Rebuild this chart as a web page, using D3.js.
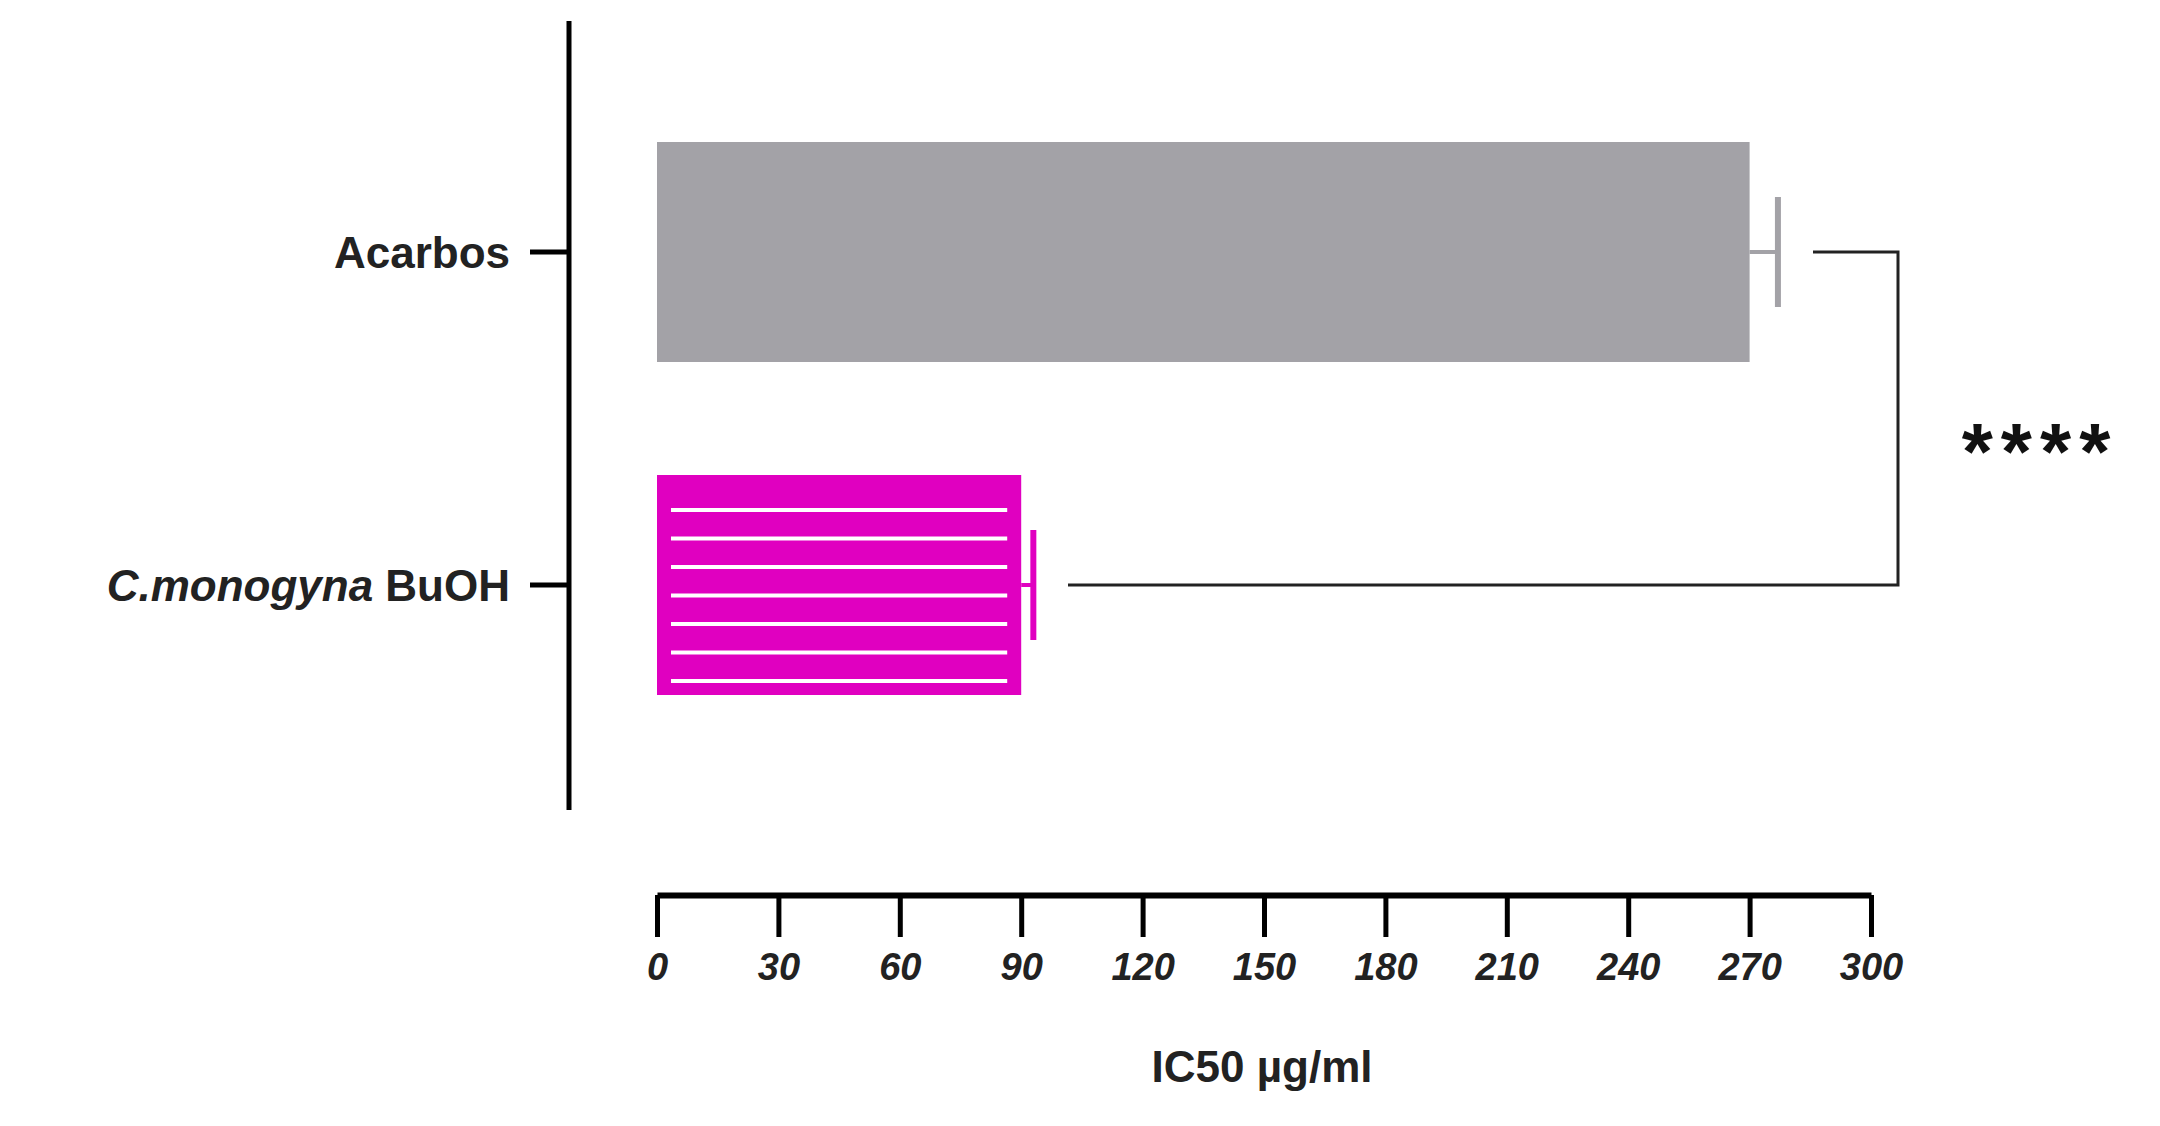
<!DOCTYPE html>
<html><head><meta charset="utf-8">
<script src="https://cdn.jsdelivr.net/npm/d3@7"></script>
<style>body{margin:0;background:#fff}</style></head>
<body><svg id="c" width="2160" height="1126"></svg>
<script>
const categories = ["Acarbos", "C.monogyna BuOH"];
const values = [270, 90];
const errors = [7, 3];
const colors = ["#a3a2a7", "#e000c0"];
const xTicks = [0,30,60,90,120,150,180,210,240,270,300];
const sigLabel = "****";

const svg = d3.select("#c");
const x = d3.scaleLinear().domain([0,300]).range([657,1871]);
const y = d3.scalePoint().domain(categories).range([252,585]);
const barH = 220;
const font = "Liberation Sans, Arial, sans-serif";

// y axis
svg.append("line").attr("x1",569).attr("x2",569).attr("y1",21).attr("y2",810).attr("stroke","#000").attr("stroke-width",5);
categories.forEach((c,i)=>{
  svg.append("line").attr("x1",530).attr("x2",569).attr("y1",y(c)).attr("y2",y(c)).attr("stroke","#000").attr("stroke-width",5);
});
const lab = svg.append("g").attr("font-family",font).attr("font-size",44).attr("font-weight","bold").attr("fill","#222");
lab.append("text").attr("x",510).attr("y",y(categories[0])).attr("dy","0.36em").attr("text-anchor","end").text("Acarbos");
const t2 = lab.append("text").attr("x",510).attr("y",y(categories[1])).attr("dy","0.36em").attr("text-anchor","end");
t2.append("tspan").attr("font-style","italic").text("C.monogyna");
t2.append("tspan").text(" BuOH");

// bars
categories.forEach((c,i)=>{
  const top = y(c)-barH/2;
  svg.append("rect").attr("x",x(0)).attr("y",top).attr("width",x(values[i])-x(0)).attr("height",barH).attr("fill",colors[i]);
  // error bar
  svg.append("line").attr("x1",x(values[i])).attr("x2",x(values[i]+errors[i])).attr("y1",y(c)).attr("y2",y(c)).attr("stroke",colors[i]).attr("stroke-width",4);
  svg.append("line").attr("x1",x(values[i]+errors[i])).attr("x2",x(values[i]+errors[i])).attr("y1",y(c)-55).attr("y2",y(c)+55).attr("stroke",colors[i]).attr("stroke-width",6);
});
// stripes
const b = 1;
d3.range(7).forEach(k=>{
  const yy = y(categories[b]) - barH/2 + 35 + k*28.5;
  svg.append("line").attr("x1",x(0)+14).attr("x2",x(values[b])-14).attr("y1",yy).attr("y2",yy).attr("stroke","#fff").attr("stroke-width",4);
});

// bracket
svg.append("path").attr("d",`M1813,${y(categories[0])} H1898 V${y(categories[1])} H1068`).attr("fill","none").attr("stroke","#222").attr("stroke-width",3);
svg.append("text").attr("x",2040).attr("y",(y(categories[0])+y(categories[1]))/2).attr("dy","0.75em").attr("text-anchor","middle")
  .attr("font-family",font).attr("font-weight","bold").attr("font-size",80).attr("letter-spacing",8).attr("fill","#111").text(sigLabel);

// x axis
const ax = svg.append("g").attr("transform","translate(0,895)")
  .call(d3.axisBottom(x).tickValues(xTicks).tickSize(42).tickPadding(16).tickSizeOuter(0));
ax.select(".domain").attr("stroke","#000").attr("stroke-width",6);
ax.selectAll(".tick line").attr("stroke","#000").attr("stroke-width",5);
ax.selectAll(".tick text").attr("font-family",font).attr("font-size",38).attr("font-weight","bold").attr("font-style","italic").attr("fill","#222");
svg.append("text").attr("x",1262).attr("y",1082).attr("text-anchor","middle").attr("font-family",font).attr("font-size",44).attr("font-weight","bold").attr("fill","#222").text("IC50 µg/ml");
</script></body></html>
